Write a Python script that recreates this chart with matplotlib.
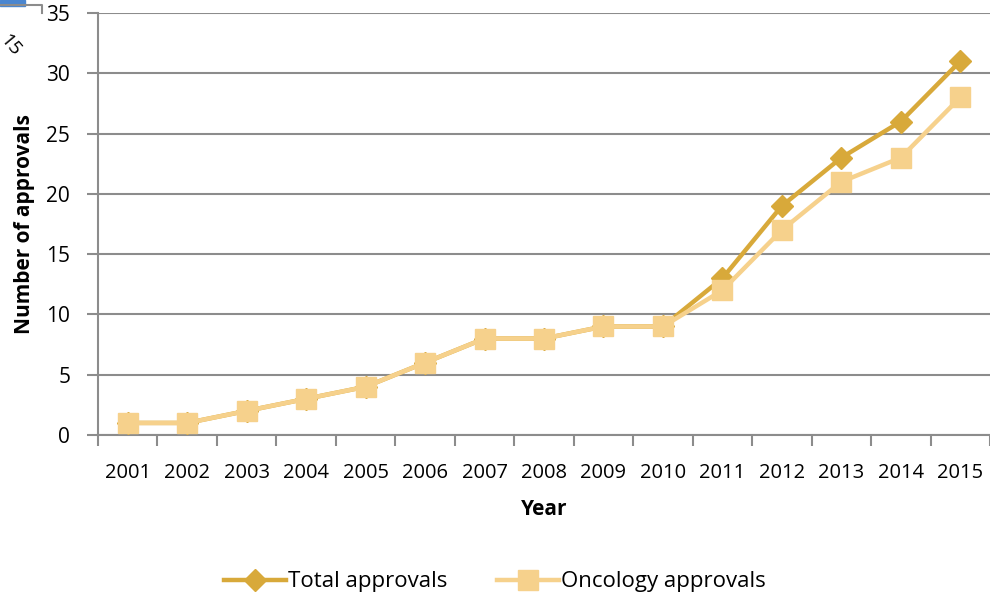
import matplotlib
matplotlib.use("Agg")
import matplotlib.pyplot as plt
from matplotlib.patches import Rectangle

# Data
years = ["2001", "2002", "2003", "2004", "2005", "2006", "2007", "2008",
         "2009", "2010", "2011", "2012", "2013", "2014", "2015"]
total_approvals = [1, 1, 2, 3, 4, 6, 8, 8, 9, 9, 13, 19, 23, 26, 31]
oncology_approvals = [1, 1, 2, 3, 4, 6, 8, 8, 9, 9, 12, 17, 21, 23, 28]
y_ticks = [0, 5, 10, 15, 20, 25, 30, 35]

plt.rcParams["font.family"] = ["Open Sans", "DejaVu Sans"]

grid_color = "#8c8c8c"
total_color = "#D8A93A"
onco_color = "#F6D18C"

fig = plt.figure(figsize=(9.9, 5.97), dpi=100)
ax = fig.add_axes([98 / 990, 1 - 435 / 597, 1 - 98 / 990, (435 - 13) / 597])

x = list(range(len(years)))
ax.plot(x, total_approvals, color=total_color, lw=3.2, marker="D",
        markersize=11, label="Total approvals", zorder=3)
ax.plot(x, oncology_approvals, color=onco_color, lw=3.2, marker="s",
        markersize=14, label="Oncology approvals", zorder=4)

ax.set_xlim(-0.5, len(years) - 0.5)
ax.set_ylim(0, 35)
ax.set_yticks(y_ticks)
ax.set_yticklabels([str(v) for v in y_ticks], fontsize=15)
ax.set_xticks(x)
ax.set_xticklabels(years, fontsize=14.5)
ax.set_xticks([i - 0.5 for i in range(len(years) + 1)], minor=True)
ax.tick_params(axis="x", which="major", length=0, pad=20)
ax.tick_params(axis="x", which="minor", length=8, color=grid_color, width=1.5)
ax.tick_params(axis="y", length=8, color=grid_color, width=1.5, pad=12)

ax.grid(axis="y", color=grid_color, lw=1.5)
ax.set_axisbelow(True)
for side in ["top", "right"]:
    ax.spines[side].set_visible(False)
for side in ["left", "bottom"]:
    ax.spines[side].set_color(grid_color)
    ax.spines[side].set_linewidth(1.5)

ax.set_xlabel("Year", fontsize=15, fontweight="bold", labelpad=12)
ax.set_ylabel("Number of approvals", fontsize=15, fontweight="bold", labelpad=8)

fig.legend(loc="center", bbox_to_anchor=(0.5, 1 - 582 / 597), ncol=2,
           frameon=False, fontsize=16, handlelength=2.8, handletextpad=0.1,
           columnspacing=2.2)

# leftover fragment of a neighbouring figure in the top-left corner
fig.patches.append(Rectangle((0, 1 - 6 / 597), 25 / 990, 6 / 597,
                             transform=fig.transFigure, color="#4a86d0"))
fig.add_artist(plt.Line2D([0, 42 / 990, 42 / 990],
                          [1 - 5 / 597, 1 - 5 / 597, 1 - 13 / 597],
                          transform=fig.transFigure, color=grid_color, lw=1.5))
fig.text(10 / 990, 1 - 45 / 597, "15", rotation=-50, fontsize=14,
         ha="center", va="center")

fig.savefig("out.png", dpi=100)
